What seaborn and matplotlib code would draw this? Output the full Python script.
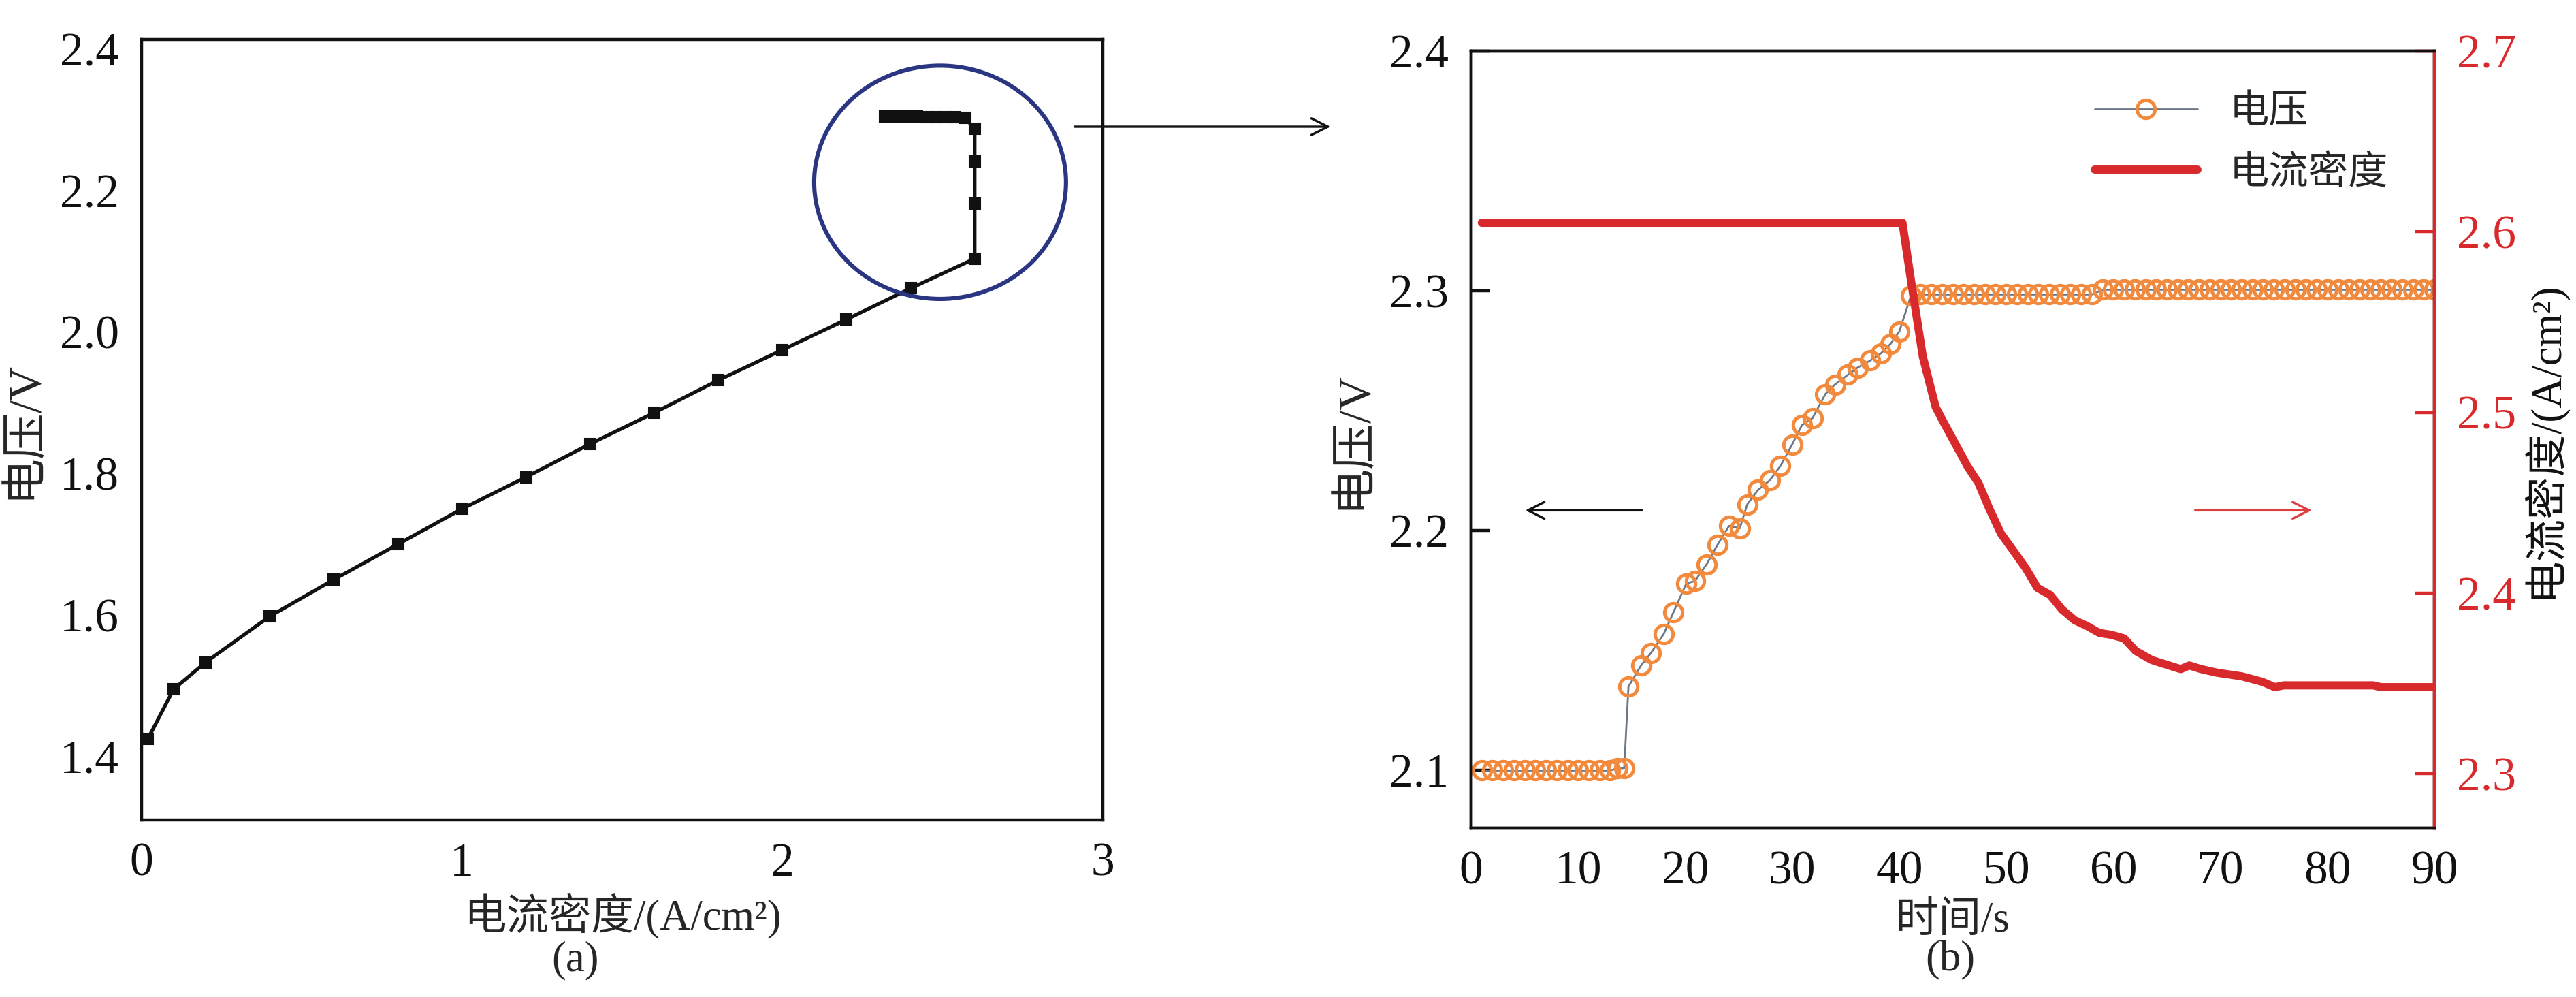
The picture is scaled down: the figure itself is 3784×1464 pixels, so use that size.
import matplotlib
matplotlib.use("Agg")
import matplotlib.pyplot as plt
import seaborn as sns
import pandas as pd
from matplotlib.lines import Line2D
from matplotlib.patches import Ellipse, FancyArrowPatch

# ---------------- data ----------------
# (a) polarization curve
j_a = [0.02, 0.1, 0.2, 0.4, 0.6, 0.8, 1.0, 1.2, 1.4, 1.6, 1.8, 2.0, 2.2, 2.4,
       2.6, 2.6, 2.6, 2.6, 2.57, 2.54, 2.51, 2.48, 2.45, 2.42, 2.39, 2.35, 2.32]
v_a = [1.425, 1.495, 1.533, 1.598, 1.650, 1.700, 1.750, 1.795, 1.842, 1.886, 1.932, 1.975, 2.018, 2.062,
       2.104, 2.182, 2.242, 2.288, 2.303, 2.304, 2.304, 2.304, 2.304, 2.305, 2.305, 2.305, 2.305]

# (b) voltage vs time
t_v = [1, 2, 3, 4, 5, 6, 7, 8, 9, 10, 11, 12, 13, 13.7, 14.3,
       14.7, 15.9, 16.8, 18.0, 18.9, 20.1, 20.9, 22.0, 23.0, 24.1, 25.1, 25.8, 26.8, 27.9,
       28.9, 30.0, 30.9, 31.9, 33.1, 34.0, 35.2, 36.1, 37.3, 38.3, 39.2, 40.0,
       41.1, 42, 43, 44, 45, 46, 47, 48, 49, 50, 51, 52, 53, 54, 55, 56, 57, 58,
       59, 60, 61, 62, 63, 64, 65, 66, 67, 68, 69, 70, 71, 72, 73, 74, 75, 76, 77, 78,
       79, 80, 81, 82, 83, 84, 85, 86, 87, 88, 89, 90]
v_v = [2.100, 2.100, 2.100, 2.100, 2.100, 2.100, 2.100, 2.100, 2.100, 2.100, 2.100, 2.100, 2.100, 2.101, 2.101,
       2.135, 2.144, 2.149, 2.157, 2.166, 2.178, 2.179, 2.186, 2.194, 2.202, 2.201, 2.211, 2.217, 2.221,
       2.227, 2.236, 2.244, 2.247, 2.257, 2.261, 2.265, 2.268, 2.271, 2.274, 2.278, 2.283,
       2.298, 2.2985, 2.2985, 2.2985, 2.2985, 2.2985, 2.2985, 2.2985, 2.2985, 2.2985, 2.2985, 2.2985,
       2.2985, 2.2985, 2.2985, 2.2985, 2.2985, 2.2985,
       2.3005, 2.3005, 2.3005, 2.3005, 2.3005, 2.3005, 2.3005, 2.3005, 2.3005, 2.3005, 2.3005, 2.3005,
       2.3005, 2.3005, 2.3005, 2.3005, 2.3005, 2.3005, 2.3005, 2.3005, 2.3005, 2.3005, 2.3005, 2.3005,
       2.3005, 2.3005, 2.3005, 2.3005, 2.3005, 2.3005, 2.3005, 2.3005]

# (b) current density vs time
t_j = [1, 40.3, 41.1, 42.2, 43.4, 44.2, 45.3, 46.4, 47.4, 48.4, 49.5, 50.6, 51.8, 52.9, 54.1,
       55.2, 56.4, 57.5, 58.7, 59.8, 61.0, 62.1, 63.6, 65.2, 66.3, 67.1, 68.2, 69.7, 72.0,
       73.9, 75.1, 75.9, 84.3, 85.0, 90]
j_j = [2.605, 2.605, 2.573, 2.531, 2.503, 2.494, 2.482, 2.470, 2.461, 2.447, 2.433, 2.424, 2.414, 2.403, 2.399,
       2.391, 2.385, 2.382, 2.378, 2.377, 2.375, 2.368, 2.363, 2.360, 2.358, 2.360, 2.358, 2.356, 2.354,
       2.351, 2.348, 2.349, 2.349, 2.348, 2.348]

xticks_a = [0, 1, 2, 3]
yticks_a = [1.4, 1.6, 1.8, 2.0, 2.2, 2.4]
xticks_b = [0, 10, 20, 30, 40, 50, 60, 70, 80, 90]
yticks_b = [2.1, 2.2, 2.3, 2.4]
yticks_b2 = [2.3, 2.4, 2.5, 2.6, 2.7]

# ---------------- style ----------------
sns.set_theme(style="white")
FAM = ["Liberation Serif", "Noto Sans CJK SC"]
plt.rcParams["font.family"] = FAM
plt.rcParams["axes.unicode_minus"] = False

RED = "#d82a2c"
ORANGE = "#f28a3e"
GRAY = "#6c7788"
NAVY = "#2b3682"
TICK_FS = 25
LAB_FS = 22.5
YLAB_FS = 24.5
SPW = 1.6

fig = plt.figure(figsize=(18.92, 7.32), dpi=200)
W, H = 3784, 1464
axA = fig.add_axes([208 / W, 1 - 1204 / H, (1620 - 208) / W, (1204 - 58) / H])
axB = fig.add_axes([2161 / W, 1 - 1216 / H, (3576 - 2161) / W, (1216 - 75) / H])


def serif_ticks(ax):
    for lbl in ax.get_xticklabels() + ax.get_yticklabels():
        lbl.set_fontfamily(["Liberation Serif"])


# ---------------- panel (a) ----------------
df_a = pd.DataFrame({"j": j_a, "v": v_a})
sns.lineplot(data=df_a, x="j", y="v", ax=axA, sort=False, estimator=None,
             color="#111111", lw=1.9, marker="s", markersize=5.5,
             markeredgecolor="#111111", markerfacecolor="#111111", legend=False)
axA.set_xlim(0, 3)
axA.set_ylim(1.31, 2.414)
axA.set_xticks(xticks_a)
axA.set_xticklabels([str(v) for v in xticks_a])
axA.set_yticks(yticks_a)
axA.set_yticklabels([f"{v:.1f}" for v in yticks_a])
axA.tick_params(direction="in", length=10, width=SPW, labelsize=TICK_FS,
                colors="#111111", pad=12)
serif_ticks(axA)
for s in axA.spines.values():
    s.set_linewidth(SPW)
    s.set_color("#111111")
axA.set_xlabel("电流密度/(A/cm²)", fontsize=LAB_FS, labelpad=4)
axA.set_ylabel("电压/V", fontsize=YLAB_FS, labelpad=8)
axA.add_patch(Ellipse((2.492, 2.212), 0.786, 0.330, fill=False,
                      edgecolor=NAVY, lw=2.2, zorder=5))

# ---------------- panel (b) ----------------
axB2 = axB.twinx()
df_v = pd.DataFrame({"t": t_v, "v": v_v})
df_j = pd.DataFrame({"t": t_j, "j": j_j})
sns.lineplot(data=df_v, x="t", y="v", ax=axB, sort=False, estimator=None,
             color=GRAY, lw=1.0, marker="o", markersize=9.5,
             markerfacecolor="none", markeredgecolor=ORANGE, markeredgewidth=1.8,
             legend=False)
sns.lineplot(data=df_j, x="t", y="j", ax=axB2, sort=False, estimator=None,
             color=RED, lw=4.3, legend=False)

axB.set_xlim(0, 90)
axB.set_ylim(2.076, 2.4)
axB2.set_ylim(2.27, 2.7)
axB.set_xticks(xticks_b)
axB.set_xticklabels([str(v) for v in xticks_b])
axB.set_yticks(yticks_b)
axB.set_yticklabels([f"{v:.1f}" for v in yticks_b])
axB2.set_yticks(yticks_b2)
axB2.set_yticklabels([f"{v:.1f}" for v in yticks_b2])
axB.tick_params(direction="in", length=10, width=SPW, labelsize=TICK_FS,
                colors="#111111", pad=12)
axB2.tick_params(axis="y", direction="in", length=10, width=SPW, labelsize=TICK_FS,
                 colors=RED, pad=12)
serif_ticks(axB)
serif_ticks(axB2)
for s in axB.spines.values():
    s.set_linewidth(SPW)
    s.set_color("#111111")
for name, s in axB2.spines.items():
    s.set_linewidth(SPW)
    s.set_color(RED if name == "right" else "#111111")
axB.set_xlabel("时间/s", fontsize=LAB_FS, labelpad=4)
axB.set_ylabel("电压/V", fontsize=YLAB_FS, labelpad=8)
axB2.set_ylabel("电流密度/(A/cm²)", fontsize=LAB_FS, labelpad=2, color="#111111")

handles = [Line2D([], [], color=GRAY, lw=1.0, marker="o", markersize=9.5,
                  markerfacecolor="none", markeredgecolor=ORANGE, markeredgewidth=1.8),
           Line2D([], [], color=RED, lw=4.3)]
axB2.legend(handles, ["电压", "电流密度"], loc="upper left",
            bbox_to_anchor=(0.61, 0.99), frameon=False, fontsize=21,
            handlelength=2.6, handletextpad=0.8, labelspacing=0.6)

axB.annotate("", xy=(4.7, 2.2085), xytext=(16.3, 2.2085),
             arrowprops=dict(arrowstyle="->", color="#111111", lw=1.2, mutation_scale=22))
axB.annotate("", xy=(78.9, 2.2085), xytext=(67.3, 2.2085),
             arrowprops=dict(arrowstyle="->", color="#e0403c", lw=1.2, mutation_scale=22))

# connecting arrow between panels
fig.add_artist(FancyArrowPatch((1573 / W, 1 - 186 / H), (1960 / W, 1 - 186 / H),
                               transform=fig.transFigure, arrowstyle="->",
                               mutation_scale=22, lw=1.2, color="#111111"))

fig.text(845 / W, 1 - 1410 / H, "(a)", fontsize=LAB_FS, ha="center", va="center")
fig.text(2865 / W, 1 - 1410 / H, "(b)", fontsize=LAB_FS, ha="center", va="center")

fig.savefig("out.png", dpi=200, facecolor="white")
